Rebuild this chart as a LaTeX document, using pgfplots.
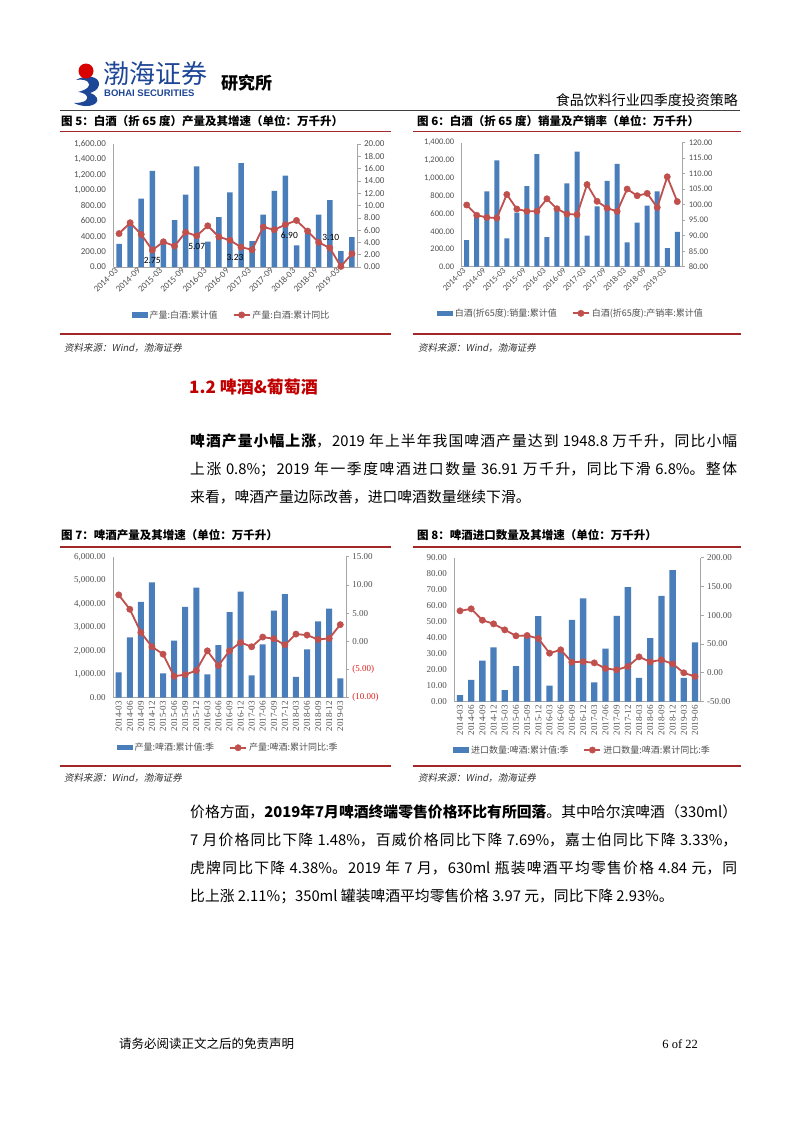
\documentclass[border=0pt]{standalone}
\usepackage{fontspec}
\usepackage{pgfplots}
\pgfplotsset{compat=1.18}
\setmainfont{Noto Sans CJK SC}
\newfontfamily\calfont{Carlito}
\newfontfamily\tnrfont{Liberation Serif}
\newfontfamily\arifont{Liberation Sans}
\newfontfamily\slcjk{Noto Sans CJK SC}[FakeSlant=0.2]
\XeTeXlinebreaklocale "zh"
\XeTeXlinebreakskip=0pt plus 2pt minus 0.4pt
\definecolor{barblue}{RGB}{74,126,187}
\definecolor{linered}{RGB}{192,80,77}
\definecolor{axgray}{RGB}{166,166,166}
\definecolor{ticktext}{RGB}{80,80,80}
\definecolor{titlered}{RGB}{160,40,40}
\definecolor{headred}{RGB}{192,0,0}
\definecolor{negred}{RGB}{220,30,30}
\definecolor{logoblue}{RGB}{30,70,150}
\pgfplotsset{
 cbase/.style={scale only axis, anchor=south west, enlargelimits=false, clip=false,
   scaled y ticks=false, /pgf/number format/assume math mode=true,
   y tick label style={/pgf/number format/fixed, /pgf/number format/fixed zerofill,
     /pgf/number format/precision=2, /pgf/number format/1000 sep={,}}},
 leftbar/.style={cbase, axis x line*=bottom, axis y line*=left,
   axis line style={draw=axgray, line width=0.6pt}, tick style={draw=none}, major tick length=0pt,
   yticklabel style={xshift=-4pt, text=ticktext}, xticklabel style={text=ticktext},
   legend cell align=left,
   legend style={draw=none, fill=none, anchor=center, legend columns=2,
     /tikz/every even column/.append style={column sep=13pt},
     font=\color{ticktext}\fontsize{9}{10}\selectfont, inner sep=0pt}},
 rightline/.style={cbase, axis x line=none, axis y line*=right,
   axis line style={draw=axgray, line width=0.6pt}, xtick=\empty, tick align=outside,
   major tick length=3pt, ytick style={draw=axgray, line width=0.5pt},
   yticklabel style={text=ticktext}},
 barplot/.style={ybar, bar width=#1, fill=barblue, draw=none,
   legend image code/.code={\fill[barblue] (0pt,-2.6pt) rectangle (16pt,2.6pt);}},
 lineplot/.style={color=linered, line width=1.8pt, mark=*, mark size=3.2pt,
   mark options={fill=linered, draw=linered, line width=0.4pt},
   legend image code/.code={\draw[mark repeat=2,mark phase=2,##1] plot coordinates {(0pt,0pt)(8pt,0pt)(16pt,0pt)};}},
}
\begin{document}
\begin{tikzpicture}
\begin{scope}[x=1pt,y=-1pt]
\path[use as bounding box, fill=white] (0,0) rectangle (802,1133);
% logo
\fill[logoblue] (76,80) .. controls (86,74) and (100,76) .. (99,85) .. controls (98,90) and (93,92) .. (90,93)
  .. controls (97,95) and (99,100) .. (96,103) .. controls (90,108) and (80,106) .. (74,103)
  .. controls (84,103) and (90,100) .. (86,95) .. controls (84,93) and (80,92) .. (78,92)
  .. controls (86,90) and (92,86) .. (88,82) .. controls (86,80) and (82,79) .. (76,80) -- cycle;
\fill[red!85!black] (86,71) circle (7.5);
\node[anchor=west, text=logoblue, font=\fontsize{26}{26}\selectfont, inner sep=0pt] at (103,74) {渤海证券};
\node[anchor=west, text=logoblue, font=\arifont\bfseries\fontsize{9.5}{10}\selectfont, inner sep=0pt] at (104,93) {BOHAI SECURITIES};
\node[anchor=west, font=\bfseries\fontsize{17}{17}\selectfont, inner sep=0pt] at (221,83) {研究所};
\node[anchor=east, font=\fontsize{14}{14}\selectfont, inner sep=0pt] at (738,100) {食品饮料行业四季度投资策略};
\draw[black!75, line width=1.5pt] (60,110.5) -- (740,110.5);
% titles row 1
\node[anchor=west, font=\bfseries\fontsize{11.5}{12}\selectfont, inner sep=0pt] at (61,121) {图 5：白酒（折 65 度）产量及其增速（单位：万千升）};
\node[anchor=west, font=\bfseries\fontsize{11.5}{12}\selectfont, inner sep=0pt] at (417,121) {图 6：白酒（折 65 度）销量及产销率（单位：万千升）};
\draw[titlered, line width=1.2pt] (60,131.5) -- (391,131.5);
\draw[titlered, line width=1.2pt] (413,131.5) -- (741,131.5);
\draw[titlered, line width=1.2pt] (60,334) -- (391,334);
\draw[titlered, line width=1.2pt] (413,334) -- (741,334);
\node[anchor=west, font=\slcjk\fontsize{9.5}{10}\selectfont, text=black!80, inner sep=0pt] at (64,348) {资料来源：Wind，渤海证券};
\node[anchor=west, font=\slcjk\fontsize{9.5}{10}\selectfont, text=black!80, inner sep=0pt] at (418,348) {资料来源：Wind，渤海证券};
% heading and paragraph 1
\node[anchor=west, text=headred, font=\bfseries\fontsize{17}{17}\selectfont, inner sep=0pt] at (189,387) {1.2 啤酒\&葡萄酒};
\node[anchor=north west, text width=547pt, align=justify, inner sep=0pt, font=\fontsize{14.8}{28}\selectfont] at (190,434)
 {\noindent\textbf{啤酒产量小幅上涨}，2019 年上半年我国啤酒产量达到 1948.8 万千升，同比小幅\linebreak 上涨 0.8\%；2019 年一季度啤酒进口数量 36.91 万千升，同比下滑 6.8\%。整体\linebreak 来看，啤酒产量边际改善，进口啤酒数量继续下滑。};
% titles row 2
\node[anchor=west, font=\bfseries\fontsize{11.5}{12}\selectfont, inner sep=0pt] at (61,535) {图 7：啤酒产量及其增速（单位：万千升）};
\node[anchor=west, font=\bfseries\fontsize{11.5}{12}\selectfont, inner sep=0pt] at (417,535) {图 8：啤酒进口数量及其增速（单位：万千升）};
\draw[titlered, line width=1.2pt] (60,547) -- (391,547);
\draw[titlered, line width=1.2pt] (413,547) -- (741,547);
\draw[titlered, line width=1.2pt] (60,766) -- (391,766);
\draw[titlered, line width=1.2pt] (413,766) -- (741,766);
\node[anchor=west, font=\slcjk\fontsize{9.5}{10}\selectfont, text=black!80, inner sep=0pt] at (64,778) {资料来源：Wind，渤海证券};
\node[anchor=west, font=\slcjk\fontsize{9.5}{10}\selectfont, text=black!80, inner sep=0pt] at (418,778) {资料来源：Wind，渤海证券};
% paragraph 2
\node[anchor=north west, text width=547pt, align=justify, inner sep=0pt, font=\fontsize{14.8}{28}\selectfont] at (190,805)
 {\noindent 价格方面，\textbf{2019年7月啤酒终端零售价格环比有所回落}。其中哈尔滨啤酒（330ml）\linebreak 7 月价格同比下降 1.48\%，百威价格同比下降 7.69\%，嘉士伯同比下降 3.33\%，\linebreak 虎牌同比下降 4.38\%。2019 年 7 月，630ml 瓶装啤酒平均零售价格 4.84 元，同\linebreak 比上涨 2.11\%；350ml 罐装啤酒平均零售价格 3.97 元，同比下降 2.93\%。};
% footer
\node[anchor=west, font=\fontsize{12.5}{13}\selectfont, inner sep=0pt] at (119,1044) {请务必阅读正文之后的免责声明};
\node[anchor=east, font=\tnrfont\fontsize{12.5}{13}\selectfont, inner sep=0pt] at (698,1044) {6 of 22};
\end{scope}

% ---------------- Chart 5 ----------------
\begin{axis}[leftbar, at={(113.5pt,-267pt)}, width=244pt, height=123pt,
  xmin=-0.5, xmax=21.5, ymin=0, ymax=1600, ytick={0,200,...,1600},
  xtick={0,2,...,20},
  xticklabels={2014-03,2014-09,2015-03,2015-09,2016-03,2016-09,2017-03,2017-09,2018-03,2018-09,2019-03},
  xticklabel style={rotate=45, anchor=east, font=\calfont\fontsize{9}{10}\selectfont},
  yticklabel style={font=\calfont\fontsize{9}{10}\selectfont},
  legend style={at={(0.484,-0.39)}}]
\addplot[barplot=5.5pt] coordinates {(0,300)(1,570)(2,890)(3,1250)(4,310)(5,610)(6,940)(7,1310)(8,330)(9,650)(10,970)(11,1350)(12,336)(13,680)(14,990)(15,1190)(16,280)(17,450)(18,680)(19,870)(20,205)(21,390)};
\addlegendentry{产量:白酒:累计值}
\addlegendimage{lineplot}
\addlegendentry{产量:白酒:累计同比}
\end{axis}
\begin{axis}[rightline, at={(113.5pt,-267pt)}, width=244pt, height=123pt,
  xmin=-0.5, xmax=21.5, ymin=0, ymax=20, ytick={0,2,...,20},
  yticklabel style={font=\calfont\fontsize{9}{10}\selectfont}]
\addplot[lineplot] coordinates {(0,5.43)(1,7.2)(2,5.3)(3,2.75)(4,4.1)(5,3.4)(6,5.65)(7,5.07)(8,6.7)(9,4.9)(10,4.35)(11,3.23)(12,2.8)(13,6.5)(14,6.05)(15,6.9)(16,7.57)(17,5.84)(18,4.0)(19,3.1)(20,0.1)(21,2.16)};
\node[anchor=north, yshift=-4pt, font=\calfont\fontsize{9.5}{10}\selectfont] at (axis cs:3,2.75) {2.75};
\node[anchor=north, yshift=-4pt, font=\calfont\fontsize{9.5}{10}\selectfont] at (axis cs:7,5.07) {5.07};
\node[anchor=north, yshift=-4pt, xshift=-6pt, font=\calfont\fontsize{9.5}{10}\selectfont] at (axis cs:11,3.23) {3.23};
\node[anchor=north, yshift=-4pt, xshift=4pt, font=\calfont\fontsize{9.5}{10}\selectfont] at (axis cs:15,6.9) {6.90};
\node[anchor=south, yshift=4pt, xshift=1pt, font=\calfont\fontsize{9.5}{10}\selectfont] at (axis cs:19,3.1) {3.10};
\end{axis}

% ---------------- Chart 6 ----------------
\begin{axis}[leftbar, at={(461.7pt,-266.7pt)}, width=220.6pt, height=124pt,
  xmin=-0.5, xmax=21.5, ymin=0, ymax=1400, ytick={0,200,...,1400},
  xtick={0,2,...,20},
  xticklabels={2014-03,2014-09,2015-03,2015-09,2016-03,2016-09,2017-03,2017-09,2018-03,2018-09,2019-03},
  xticklabel style={rotate=45, anchor=east, font=\calfont\fontsize{8.5}{10}\selectfont},
  yticklabel style={font=\calfont\fontsize{8.5}{10}\selectfont},
  legend style={at={(0.495,-0.376)}}]
\addplot[barplot=5pt] coordinates {(0,300)(1,583)(2,850)(3,1200)(4,320)(5,610)(6,910)(7,1270)(8,335)(9,640)(10,940)(11,1300)(12,352)(13,680)(14,970)(15,1160)(16,275)(17,497)(18,690)(19,850)(20,210)(21,392)};
\addlegendentry{白酒(折65度):销量:累计值}
\addlegendimage{lineplot}
\addlegendentry{白酒(折65度):产销率:累计值}
\end{axis}
\begin{axis}[rightline, at={(461.7pt,-266.7pt)}, width=220.6pt, height=124pt,
  xmin=-0.5, xmax=21.5, ymin=80, ymax=120, ytick={80,85,...,120},
  yticklabel style={font=\calfont\fontsize{8.5}{10}\selectfont}]
\addplot[lineplot] coordinates {(0,99.9)(1,96.6)(2,95.9)(3,95.7)(4,103.3)(5,98.6)(6,97.9)(7,97.9)(8,101.9)(9,98.7)(10,97.0)(11,96.8)(12,106.5)(13,101.1)(14,98.9)(15,97.85)(16,105.05)(17,102.9)(18,103.65)(19,99.1)(20,109.0)(21,101.0)};
\end{axis}

% ---------------- Chart 7 ----------------
\begin{axis}[leftbar, at={(113.2pt,-697.7pt)}, width=232.6pt, height=141pt,
  xmin=-0.5, xmax=20.5, ymin=0, ymax=6000, ytick={0,1000,...,6000},
  xtick={0,...,20},
  xticklabels={2014-03,2014-06,2014-09,2014-12,2015-03,2015-06,2015-09,2015-12,2016-03,2016-06,2016-09,2016-12,2017-03,2017-06,2017-09,2017-12,2018-03,2018-06,2018-09,2018-12,2019-03},
  xticklabel style={rotate=90, anchor=east, font=\tnrfont\fontsize{9}{10}\selectfont},
  yticklabel style={font=\tnrfont\fontsize{9}{10}\selectfont},
  legend style={at={(0.494,-0.355)}}]
\addplot[barplot=6pt] coordinates {(0,1080)(1,2570)(2,4080)(3,4910)(4,1035)(5,2425)(6,3870)(7,4680)(8,993)(9,2240)(10,3645)(11,4510)(12,955)(13,2265)(14,3705)(15,4404)(16,883)(17,2052)(18,3250)(19,3792)(20,826)};
\addlegendentry{产量:啤酒:累计值:季}
\addlegendimage{lineplot}
\addlegendentry{产量:啤酒:累计同比:季}
\end{axis}
\begin{axis}[rightline, at={(113.2pt,-697.7pt)}, width=232.6pt, height=141pt,
  xmin=-0.5, xmax=20.5, ymin=-10, ymax=15, ytick={-10,-5,...,15},
  yticklabels={{\color{negred}(10.00)},{\color{negred}(5.00)},0.00,5.00,10.00,15.00},
  yticklabel style={font=\tnrfont\fontsize{9}{10}\selectfont}]
\addplot[lineplot] coordinates {(0,8.23)(1,5.68)(2,1.58)(3,-0.97)(4,-2.28)(5,-6.2)(6,-5.9)(7,-5.19)(8,-1.69)(9,-4.3)(10,-1.69)(11,-0.2)(12,-0.97)(13,0.75)(14,0.45)(15,-0.62)(16,1.28)(17,1.1)(18,0.33)(19,0.51)(20,2.95)};
\end{axis}

% ---------------- Chart 8 ----------------
\begin{axis}[leftbar, at={(454.4pt,-701.5pt)}, width=246.2pt, height=144pt,
  xmin=-0.5, xmax=21.5, ymin=0, ymax=90, ytick={0,10,...,90},
  xtick={0,...,21},
  xticklabels={2014-03,2014-06,2014-09,2014-12,2015-03,2015-06,2015-09,2015-12,2016-03,2016-06,2016-09,2016-12,2017-03,2017-06,2017-09,2017-12,2018-03,2018-06,2018-09,2018-12,2019-03,2019-06},
  xticklabel style={rotate=90, anchor=east, font=\tnrfont\fontsize{9}{10}\selectfont},
  yticklabel style={font=\tnrfont\fontsize{9}{10}\selectfont},
  legend style={at={(0.52,-0.337)}}]
\addplot[barplot=6.3pt] coordinates {(0,4)(1,13.5)(2,25.6)(3,33.8)(4,7.1)(5,22.1)(6,40.4)(7,53.3)(8,10)(9,31)(10,51)(11,64.4)(12,11.9)(13,33.1)(14,53.5)(15,71.5)(16,14.8)(17,39.6)(18,66.0)(19,82.1)(20,14.8)(21,36.9)};
\addlegendentry{进口数量:啤酒:累计值:季}
\addlegendimage{lineplot}
\addlegendentry{进口数量:啤酒:累计同比:季}
\end{axis}
\begin{axis}[rightline, at={(454.4pt,-701.5pt)}, width=246.2pt, height=144pt,
  xmin=-0.5, xmax=21.5, ymin=-50, ymax=200, ytick={-50,0,...,200},
  yticklabel style={font=\tnrfont\fontsize{9}{10}\selectfont}]
\addplot[lineplot] coordinates {(0,107.4)(1,110.9)(2,91.2)(3,84.8)(4,74.4)(5,64)(6,64.6)(7,59.4)(8,33.9)(9,39.7)(10,18.3)(11,19.2)(12,17.1)(13,7.3)(14,5.0)(15,10.8)(16,27.5)(17,18.9)(18,22.3)(19,15.4)(20,-0.2)(21,-6.6)};
\end{axis}
\end{tikzpicture}
\end{document}
